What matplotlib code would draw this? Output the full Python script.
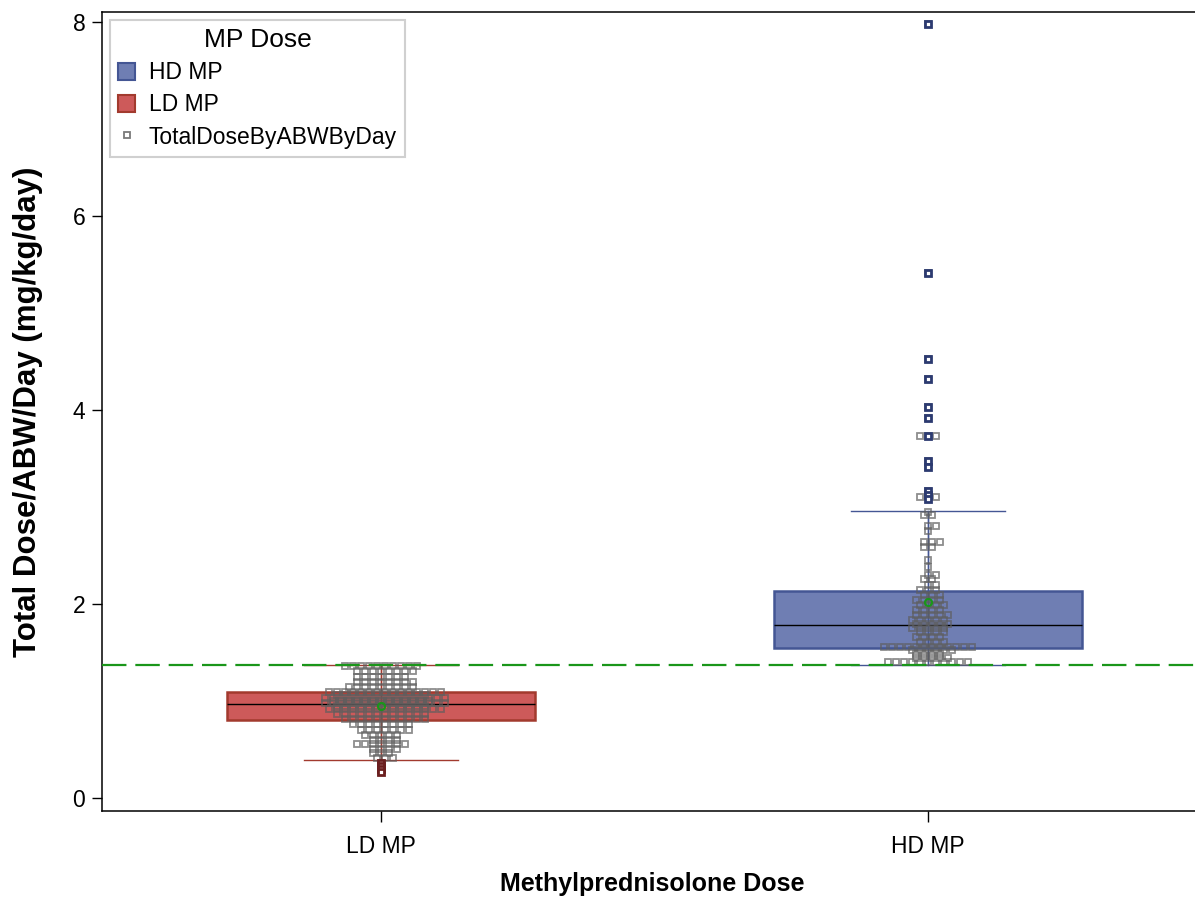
import numpy as np
import matplotlib
matplotlib.use('Agg')
import matplotlib.pyplot as plt
from matplotlib.patches import Patch
from matplotlib.lines import Line2D

plt.rcParams['font.family'] = ['Liberation Sans', 'DejaVu Sans']

# categories / box statistics
groups = ["LD MP", "HD MP"]
medians = [0.969, 1.784]
q1s = [0.804, 1.546]
q3s = [1.093, 2.134]
whis_lo = [0.39, 1.37]
whis_hi = [1.37, 2.96]
means = [0.95, 2.02]
ld_outliers = [0.36, 0.33, 0.30, 0.27]
hd_outliers = [7.98, 5.41, 4.53, 4.32, 4.03, 3.92, 3.73, 3.47, 3.41, 3.16, 3.12, 3.08]
ref_line = 1.371

# individual observations (value level, number of points at that level)
ld_levels = [1.36, 1.31, 1.25, 1.20, 1.14, 1.09, 1.06, 1.03, 1.00, 0.98, 0.95, 0.92,
             0.87, 0.81, 0.76, 0.70, 0.65, 0.60, 0.56, 0.51, 0.46, 0.41,
             0.36, 0.33, 0.30, 0.27]
ld_counts = [10, 8, 7, 8, 9, 15, 12, 16, 13, 16, 12, 15,
             12, 11, 8, 7, 5, 4, 7, 4, 3, 3,
             1, 1, 1, 1]
hd_levels = [7.98, 5.41, 4.53, 4.32, 4.03, 3.92, 3.73, 3.47, 3.41, 3.16, 3.10,
             2.95, 2.92, 2.80, 2.75, 2.64, 2.59, 2.45, 2.38, 2.30, 2.26, 2.20,
             2.14, 2.09, 2.04, 1.99, 1.94, 1.89, 1.84, 1.79, 1.75, 1.71, 1.66,
             1.61, 1.56, 1.53, 1.48, 1.44, 1.40]
hd_counts = [1, 1, 1, 1, 1, 1, 3, 1, 1, 1, 3,
             1, 2, 2, 1, 3, 2, 1, 1, 2, 2, 2,
             3, 3, 4, 4, 4, 5, 5, 5, 5, 4, 4,
             4, 12, 6, 4, 5, 11]

ld_fill, ld_edge = "#CD5A5A", "#A23A2E"
hd_fill, hd_edge = "#6F7EB3", "#445694"
green = "#1A961A"

fig = plt.figure(figsize=(11.95, 8.98), dpi=100)
ax = fig.add_axes([102 / 1195, 87 / 898, 1099.5 / 1195, 799 / 898])

stats = []
for i, g in enumerate(groups):
    stats.append(dict(label=g, med=medians[i], q1=q1s[i], q3=q3s[i],
                      whislo=whis_lo[i], whishi=whis_hi[i], mean=means[i],
                      fliers=[ld_outliers, hd_outliers][i]))

bp = ax.bxp(stats, positions=[0, 1], widths=0.563, capwidths=0.28,
            patch_artist=True, showmeans=True, showfliers=True,
            medianprops=dict(color="black", lw=1.0),
            meanprops=dict(marker="o", ms=5, mfc="none", mec=green, mew=1.6),
            flierprops=dict(marker="s", ms=4.5, mfc="white", mew=2.0),
            whiskerprops=dict(lw=1.0), capprops=dict(lw=1.0))

fills = [ld_fill, hd_fill]
edges = [ld_edge, hd_edge]
flier_cols = ["#6B1F1F", "#2C3A70"]
for i in range(2):
    bp["boxes"][i].set_facecolor(fills[i])
    bp["boxes"][i].set_edgecolor(edges[i])
    bp["boxes"][i].set_linewidth(1.8)
    bp["boxes"][i].set_zorder(2)
    for w in bp["whiskers"][2 * i:2 * i + 2]:
        w.set_color(edges[i])
    for c in bp["caps"][2 * i:2 * i + 2]:
        c.set_color(edges[i])
    bp["fliers"][i].set_markeredgecolor(flier_cols[i])
    bp["fliers"][i].set_zorder(5)
    bp["means"][i].set_zorder(6)
    bp["medians"][i].set_zorder(2.5)

# whisker line through the box
ax.vlines([0, 1], whis_lo, whis_hi, colors=edges, lw=1.0, zorder=2.6)

# swarm of observations, alternate rows shifted by half a marker
step = 8.0 / 547
for pos, levels, counts in [(0, ld_levels, ld_counts), (1, hd_levels, hd_counts)]:
    xs, ys = [], []
    for k, (v, n) in enumerate(zip(levels, counts)):
        offs = (np.arange(n) - (n - 1) / 2) * step
        if n > 1 and k % 2:
            offs = offs + step / 2
        xs.extend(pos + offs)
        ys.extend([v] * n)
    ax.plot(xs, ys, "s", ls="none", ms=4.3, mfc="none", mec="#5E5E5E",
            mew=1.3, alpha=0.7, zorder=3)

ax.axhline(ref_line, color=green, lw=1.6, dashes=(11, 4), zorder=7)

ax.set_xlim(-0.51, 1.5)
ax.set_ylim(-0.134, 8.103)
ax.set_xticks([0, 1])
ax.set_xticklabels(groups)
ax.set_yticks([0, 2, 4, 6, 8])
ax.tick_params(axis="y", labelsize=16.5, length=7, width=1, pad=5)
ax.tick_params(axis="x", labelsize=16.5, length=8, width=1, pad=9)
for s in ax.spines.values():
    s.set_linewidth(1.1)

ax.set_xlabel("Methylprednisolone Dose", fontsize=18, fontweight="bold", labelpad=10)
ax.set_ylabel("Total Dose/ABW/Day (mg/kg/day)", fontsize=22.5, fontweight="bold", labelpad=21)

handles = [Patch(facecolor=hd_fill, edgecolor=hd_edge, lw=1.5),
           Patch(facecolor=ld_fill, edgecolor=ld_edge, lw=1.5),
           Line2D([], [], marker="s", ls="none", ms=4.3, mfc="none", mec="#7A7A7A", mew=1.3)]
leg = ax.legend(handles, ["HD MP", "LD MP", "TotalDoseByABWByDay"], title="MP Dose",
                loc="upper left", bbox_to_anchor=(0.0073, 0.99), borderaxespad=0,
                fontsize=16.5, title_fontsize=19, fancybox=False, framealpha=1,
                edgecolor="#D0D0D0", handlelength=0.75, handleheight=0.75,
                handletextpad=0.6, labelspacing=0.4, borderpad=0.35)
leg.get_frame().set_linewidth(1.5)

fig.savefig("out.png", dpi=100)
